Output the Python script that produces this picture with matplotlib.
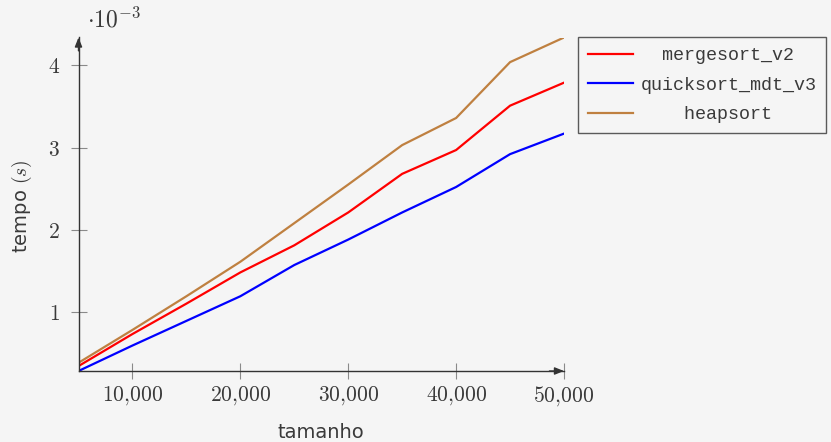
import matplotlib
matplotlib.use("Agg")
import matplotlib.pyplot as plt
from matplotlib.ticker import FuncFormatter

plt.rcParams["mathtext.fontset"] = "cm"
plt.rcParams["font.family"] = ["DejaVu Sans"]

# Input sizes and running times (seconds, scaled by 1e-3)
tamanho = [5000, 10000, 15000, 20000, 25000, 30000, 35000, 40000, 45000, 50000]
mergesort_v2 = [0.34, 0.73, 1.10, 1.48, 1.81, 2.21, 2.68, 2.97, 3.51, 3.79]
quicksort_mdt_v3 = [0.28, 0.59, 0.89, 1.19, 1.57, 1.88, 2.21, 2.52, 2.92, 3.17]
heapsort = [0.38, 0.78, 1.19, 1.61, 2.08, 2.55, 3.03, 3.36, 4.04, 4.34]

series_names = ["mergesort_v2", "quicksort_mdt_v3", "heapsort"]
series_colors = ["#ff0000", "#0000ff", "#bf8040"]
x_ticks = [10000, 20000, 30000, 40000, 50000]
y_ticks = [1, 2, 3, 4]

BG = "#f5f5f5"
AXIS_COLOR = "#333333"
TICK_COLOR = "#8a8a8a"
TEXT_COLOR = "#3a3a3a"

W, H = 831, 442
fig = plt.figure(figsize=(W / 100, H / 100), dpi=100, facecolor=BG)
ax_left, ax_right, ax_top, ax_bottom = 78.5, 564, 37.5, 371
ax = fig.add_axes([ax_left / W, 1 - ax_bottom / H,
                   (ax_right - ax_left) / W, (ax_bottom - ax_top) / H])
ax.set_facecolor(BG)

all_series = [mergesort_v2, quicksort_mdt_v3, heapsort]
for vals, name, col in zip(all_series, series_names, series_colors):
    ax.plot(tamanho, vals, color=col, lw=1.6, label=name, solid_joinstyle="miter")

ax.set_xlim(min(tamanho), max(tamanho))
ymin = min(min(s) for s in all_series)
ymax = max(max(s) for s in all_series)
ax.set_ylim(ymin, ymax)

for side in ("top", "right"):
    ax.spines[side].set_visible(False)
for side in ("left", "bottom"):
    ax.spines[side].set_color(AXIS_COLOR)
    ax.spines[side].set_linewidth(1.0)

# arrow heads at the end of each axis line
arrow = dict(arrowstyle="-|>,head_length=0.55,head_width=0.22", color=AXIS_COLOR,
             lw=1.0, shrinkA=0, shrinkB=0)
ax.annotate("", xy=(1, 0), xytext=(0.97, 0), xycoords="axes fraction",
            arrowprops=arrow, annotation_clip=False)
ax.annotate("", xy=(0, 1), xytext=(0, 0.96), xycoords="axes fraction",
            arrowprops=arrow, annotation_clip=False)

ax.set_xticks(x_ticks)
ax.set_yticks(y_ticks)
ax.xaxis.set_major_formatter(FuncFormatter(lambda v, p: r"$%d{,}%03d$" % (int(v) // 1000, int(v) % 1000)))
ax.yaxis.set_major_formatter(FuncFormatter(lambda v, p: r"$%d$" % v))
ax.tick_params(direction="inout", length=11, width=0.8, color=TICK_COLOR,
               labelsize=15.5, labelcolor=TEXT_COLOR)
ax.tick_params(axis="x", pad=4)
ax.tick_params(axis="y", pad=8)

# axis titles placed in figure pixels
fig.text(321 / W, 1 - 437.5 / H, "tamanho", fontsize=14, color=TEXT_COLOR,
         ha="center", va="baseline")
fig.text(21.5 / W, 1 - 206 / H, r"tempo $(s)$", fontsize=14, color=TEXT_COLOR,
         ha="center", va="center", rotation=90)

fig.text(87 / W, 1 - 27 / H, r"$\cdot 10^{-3}$", fontsize=17, color=TEXT_COLOR,
         ha="left", va="baseline")

# legend texts centred in the monospace column
width = max(len(n) for n in series_names)
handles, labels = ax.get_legend_handles_labels()
centred = [" " * ((width - len(l)) // 2) + l for l in labels]
leg = fig.legend(handles, centred, loc="upper left",
                 bbox_to_anchor=(578 / W, 1 - 37 / H), bbox_transform=fig.transFigure,
                 borderaxespad=0, fancybox=False, frameon=True,
                 prop={"family": "Liberation Mono", "size": 13.2},
                 handlelength=2.45, handletextpad=0.4, borderpad=0.55,
                 labelspacing=0.68)
leg.get_frame().set_edgecolor(AXIS_COLOR)
leg.get_frame().set_linewidth(1.0)
leg.get_frame().set_facecolor(BG)
for t in leg.get_texts():
    t.set_color(TEXT_COLOR)

fig.savefig("out.png", dpi=100, facecolor=BG)
